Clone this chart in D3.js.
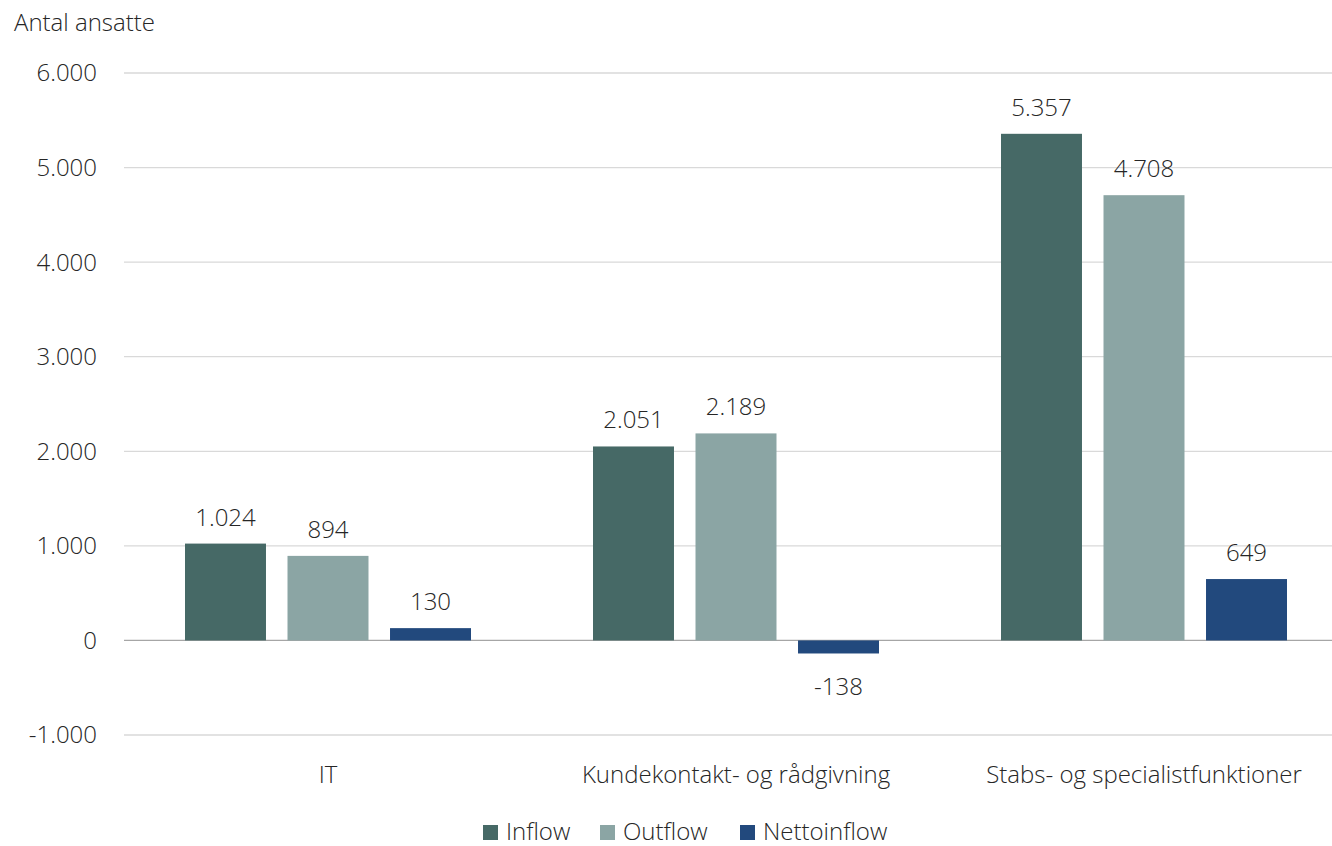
<!DOCTYPE html>
<html>
<head>
<meta charset="utf-8">
<script src="https://cdn.jsdelivr.net/npm/d3@7"></script>
<style>
  body { margin: 0; background: #fff; }
  svg text { font-family: "Open Sans", "Segoe UI", sans-serif; font-weight: 300; fill: #262626; }
</style>
</head>
<body>
<svg class="chart"></svg>
<script>
const categories = ['IT', 'Kundekontakt- og rådgivning', 'Stabs- og specialistfunktioner']
const seriesNames = ['Inflow', 'Outflow', 'Nettoinflow']
const inflow = [1024, 2051, 5357]
const outflow = [894, 2189, 4708]
const nettoinflow = [130, -138, 649]
const yTicks = [-1000, 0, 1000, 2000, 3000, 4000, 5000, 6000]
const colors = ['#466966', '#8ba5a4', '#22497d']

const values = [inflow, outflow, nettoinflow]
const data = categories.map((c, i) => ({
  name: c,
  vals: seriesNames.map((s, j) => ({ series: s, value: values[j][i] }))
}))

const W = 1332, H = 846
const margin = { top: 73, right: 0, bottom: 111, left: 124 }
const width = W - margin.left - margin.right,
      height = H - margin.top - margin.bottom

// danish style: dot thousands, plain hyphen minus
const fmt = v => d3.format(',')(v).replace(/,/g, '.').replace('\u2212', '-')

const x = d3.scaleBand()
  .domain(categories)
  .range([0, 1224])

const x1 = d3.scaleBand()
  .domain(seriesNames)
  .range([x.bandwidth() / 2 - 143, x.bandwidth() / 2 + 143])
  .paddingInner(0.21)

const y = d3.scaleLinear()
  .domain([-1000, 6000])
  .range([height, 0])

const color = d3.scaleOrdinal().domain(seriesNames).range(colors)

const svg = d3.select('.chart')
  .attr('width', W)
  .attr('height', H)

const chart = svg.append('g')
  .attr('transform', `translate(${margin.left}, ${margin.top})`)

// grid
chart.append('g')
  .selectAll('line')
  .data(yTicks)
  .enter()
  .append('line')
  .attr('x1', 0)
  .attr('x2', width)
  .attr('y1', d => y(d))
  .attr('y2', d => y(d))
  .attr('stroke', d => d === 0 ? '#a6a6a6' : '#d9d9d9')
  .attr('stroke-width', 1.3)

const fs = '24px'

// y labels
chart.append('g')
  .selectAll('text')
  .data(yTicks)
  .enter()
  .append('text')
  .attr('x', -27)
  .attr('y', d => y(d))
  .attr('dy', '0.35em')
  .attr('text-anchor', 'end')
  .style('font-size', fs)
  .text(d => fmt(d))

svg.append('text')
  .attr('x', 14)
  .attr('y', 31)
  .style('font-size', fs)
  .text('Antal ansatte')

const group = chart.selectAll('.grp')
  .data(data)
  .enter()
  .append('g')
  .attr('class', 'grp')
  .attr('transform', d => `translate(${x(d.name)}, 0)`)

group.selectAll('rect')
  .data(d => d.vals)
  .enter()
  .append('rect')
  .attr('x', d => x1(d.series))
  .attr('width', x1.bandwidth())
  .attr('y', d => y(Math.max(0, d.value)))
  .attr('height', d => Math.abs(y(d.value) - y(0)))
  .attr('fill', d => color(d.series))

group.selectAll('.lbl')
  .data(d => d.vals)
  .enter()
  .append('text')
  .attr('class', 'lbl')
  .attr('x', d => x1(d.series) + x1.bandwidth() / 2)
  .attr('y', d => d.value >= 0 ? y(d.value) - 18 : y(d.value) + 42)
  .attr('text-anchor', 'middle')
  .style('font-size', fs)
  .text(d => fmt(d.value))

// category labels
chart.append('g')
  .selectAll('text')
  .data(categories)
  .enter()
  .append('text')
  .attr('x', d => x(d) + x.bandwidth() / 2)
  .attr('y', height + 48)
  .attr('text-anchor', 'middle')
  .style('font-size', fs)
  .text(d => d)

// legend
const legendX = [483, 600, 740]
const legend = svg.append('g')
  .selectAll('g')
  .data(seriesNames)
  .enter()
  .append('g')
  .attr('transform', (d, i) => `translate(${legendX[i]}, 831)`)

legend.append('rect')
  .attr('x', 0)
  .attr('y', -6)
  .attr('width', 15)
  .attr('height', 15)
  .attr('fill', d => color(d))

legend.append('text')
  .attr('x', 23)
  .attr('dy', '0.38em')
  .style('font-size', fs)
  .text(d => d)
</script>
</body>
</html>
